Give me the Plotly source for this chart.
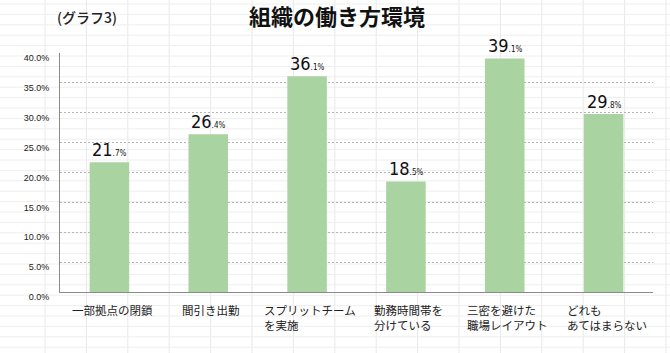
import plotly.graph_objects as go

categories = ["一部拠点の閉鎖", "間引き出勤", "スプリットチーム<br>を実施", "勤務時間帯を<br>分けている",
              "三密を避けた<br>職場レイアウト", "どれも<br>あてはまらない"]
values = [21.7, 26.4, 36.1, 18.5, 39.1, 29.8]
y_ticks = [0, 5, 10, 15, 20, 25, 30, 35, 40]

W, H = 670, 353
L, R, T, B = 60, 17, 53, 61
pw, ph = W - L - R, H - T - B

xs = list(range(len(categories)))
fig = go.Figure()
fig.add_trace(go.Bar(x=xs, y=values, marker=dict(color="#a9d3a0", line=dict(width=0)),
                     width=0.4, hoverinfo="skip"))

annotations = []
for i, v in enumerate(values):
    s = f"{v:.1f}"
    big, small = s.split(".")
    annotations.append(dict(
        x=i, y=v, xref="x", yref="y", showarrow=False, yanchor="bottom", xanchor="center",
        yshift=0,
        text=f"<span style='font-size:18px;font-stretch:condensed'>{big}</span>"
             f"<span style='font-size:8px;font-stretch:condensed'>.{small}%</span>",
        font=dict(family="DejaVu Sans Condensed, DejaVu Sans, sans-serif", color="#111", size=18)))
for i, c in enumerate(categories):
    annotations.append(dict(
        x=i, y=0, xref="x", yref="y", showarrow=False, yanchor="top", xanchor="center", align="left",
        yshift=-8, xshift=3, text=c,
        font=dict(family="Noto Sans CJK JP", size=11.5, color="#222")))
annotations.append(dict(x=(55 - L) / pw, y=(H - B - 17) / ph, xref="paper", yref="paper", showarrow=False,
                        xanchor="left", yanchor="middle",
                        text="(グラフ3)", font=dict(family="Noto Sans CJK JP", size=14, color="#222", weight=500)))

# faint spreadsheet grid in the background
shapes = []
gx = 45.0
while gx < W:
    shapes.append(dict(type="line", xref="paper", yref="paper", layer="below",
                       x0=(gx - L) / pw, x1=(gx - L) / pw, y0=(H - B) / ph, y1=(H - B - H) / ph,
                       line=dict(color="#e8e8e8", width=1)))
    gx += 41.4
gy = 4.0
while gy < H:
    yp = (H - B - gy) / ph
    shapes.append(dict(type="line", xref="paper", yref="paper", layer="below",
                       x0=(0 - L) / pw, x1=(W - L) / pw, y0=yp, y1=yp,
                       line=dict(color="#eeeeee", width=1)))
    gy += 10.4

fig.update_layout(
    width=W, height=H, margin=dict(l=L, r=R, t=T, b=B),
    paper_bgcolor="white", plot_bgcolor="rgba(0,0,0,0)",
    showlegend=False, bargap=0.6,
    title=dict(text="<b>組織の働き方環境</b>", x=0.503, xanchor="center", y=1 - 17 / H, yanchor="middle",
               font=dict(family="Noto Sans CJK JP", size=22, color="#111")),
    annotations=annotations, shapes=shapes,
    xaxis=dict(range=[-0.5, len(categories) - 0.5], showticklabels=False, showgrid=False, zeroline=False,
               showline=True, linecolor="#8a8a8a", linewidth=1, ticks=""),
    yaxis=dict(range=[0, 40], tickvals=y_ticks, ticktext=[f"{t:.1f}%" for t in y_ticks],
               showgrid=True, gridcolor="#b5b5b5", griddash="2px,2px", gridwidth=1,
               zeroline=False, showline=True, linecolor="#8a8a8a", linewidth=1, ticks="",
               ticklabelstandoff=8, ticklabelshift=5,
               tickfont=dict(family="Liberation Sans, Arial, sans-serif", size=9, color="#222")),
)
fig.write_html("out.html")
